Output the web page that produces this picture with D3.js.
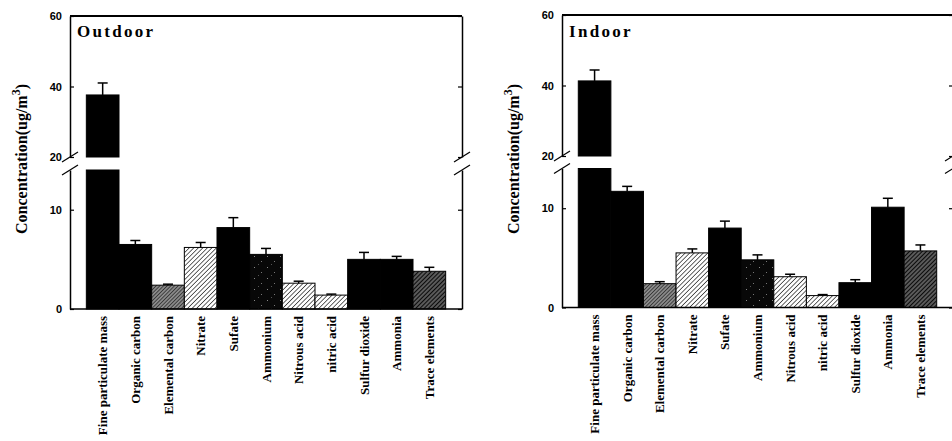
<!DOCTYPE html>
<html>
<head>
<meta charset="utf-8">
<script src="https://cdn.jsdelivr.net/npm/d3@7"></script>
<style>
  body { margin: 0; background: #fff; }
  svg { display: block; }
  .tick text { font-family: 'Liberation Sans', Arial, sans-serif; font-weight: bold; font-size: 11px; fill: #000; }
</style>
</head>
<body>
<div class="container"></div>
<script>
const categories = ['Fine particulate mass', 'Organic carbon', 'Elemental carbon', 'Nitrate', 'Sufate', 'Ammonium',
  'Nitrous acid', 'nitric acid', 'Sulfur dioxide', 'Ammonia', 'Trace elements'];

const outdoorMeans = [37.6, 6.5, 2.4, 6.2, 8.2, 5.5, 2.6, 1.4, 5.0, 5.0, 3.8];
const outdoorErrors = [3.4, 0.4, 0.1, 0.5, 1.0, 0.6, 0.2, 0.1, 0.7, 0.3, 0.4];

const indoorMeans = [41.3, 11.7, 2.4, 5.5, 8.0, 4.8, 3.1, 1.2, 2.5, 10.1, 5.7];
const indoorErrors = [3.1, 0.5, 0.2, 0.4, 0.7, 0.5, 0.25, 0.1, 0.3, 0.9, 0.6];

const fills = ['solid', 'solid', 'darkHatch', 'lightHatch', 'solid', 'stipple', 'lightHatch', 'lightHatch', 'solid', 'solid', 'traceHatch'];

const lowerTicks = [0, 10];
const upperTicks = [20, 40, 60];

const width = 952;
const height = 441;

const svg = d3.select('.container')
  .append('svg')
  .attr('width', width)
  .attr('height', height);

// fill patterns
const defs = svg.append('defs');

const hatch = (id, bg, line, gap, lw) => {
  const p = defs.append('pattern')
    .attr('id', id)
    .attr('patternUnits', 'userSpaceOnUse')
    .attr('width', gap)
    .attr('height', gap)
    .attr('patternTransform', 'rotate(45)');
  p.append('rect').attr('width', gap).attr('height', gap).attr('fill', bg);
  p.append('line')
    .attr('x1', 0).attr('y1', 0).attr('x2', 0).attr('y2', gap)
    .attr('stroke', line).attr('stroke-width', lw);
};
hatch('lightHatch', '#fff', '#000', 3.2, 1.2);
hatch('darkHatch', '#8a8a8a', '#111', 2.6, 1.2);

// dark stipple: black with a few light specks
const stipple = defs.append('pattern')
  .attr('id', 'stipple')
  .attr('patternUnits', 'userSpaceOnUse')
  .attr('width', 13).attr('height', 11);
stipple.append('rect').attr('width', 13).attr('height', 11).attr('fill', '#080808');
stipple.append('rect').attr('x', 2).attr('y', 3).attr('width', 1).attr('height', 1).attr('fill', '#888');
stipple.append('rect').attr('x', 9).attr('y', 8).attr('width', 1).attr('height', 1).attr('fill', '#777');
stipple.append('rect').attr('x', 6).attr('y', 0).attr('width', 1).attr('height', 1).attr('fill', '#555');

const trace = defs.append('pattern')
  .attr('id', 'traceHatch')
  .attr('patternUnits', 'userSpaceOnUse')
  .attr('width', 3).attr('height', 3)
  .attr('patternTransform', 'rotate(45)');
trace.append('rect').attr('width', 3).attr('height', 3).attr('fill', '#5a5a5a');
trace.append('line').attr('x1', 0).attr('y1', 0).attr('x2', 0).attr('y2', 3)
  .attr('stroke', '#000').attr('stroke-width', 1.8);

const fillOf = f => (f === 'solid' ? '#000' : `url(#${f})`);

const panels = [
  { title: 'Outdoor', means: outdoorMeans, errors: outdoorErrors, x0: 70, top: 16, bottom: 309, breakTop: 157, w: 392 },
  { title: 'Indoor', means: indoorMeans, errors: indoorErrors, x0: 562, top: 15, bottom: 307.5, breakTop: 156, w: 391 }
];

const drawPanel = p => {
  const g = svg.append('g').attr('transform', `translate(${p.x0}, 0)`);

  const x = d3.scaleBand().domain(categories).range([0, p.w]).paddingInner(0).paddingOuter(0.5);
  const yLow = d3.scaleLinear().domain([0, 14]).range([p.bottom, p.bottom - 139]);
  const yUp = d3.scaleLinear().domain([20, 60]).range([p.breakTop, p.top]);

  const data = categories.map((c, i) => ({ key: c, value: p.means[i], err: p.errors[i], fill: fills[i] }));

  // bars (the lower part is clipped at 14, the upper part starts at 20)
  const bars = g.selectAll('.bar').data(data).enter().append('g').attr('class', 'bar');

  bars.append('rect')
    .attr('x', d => x(d.key))
    .attr('width', x.bandwidth())
    .attr('y', d => yLow(Math.min(d.value, 14)))
    .attr('height', d => p.bottom - yLow(Math.min(d.value, 14)))
    .attr('fill', d => fillOf(d.fill))
    .attr('stroke', '#000')
    .attr('stroke-width', 1);

  bars.filter(d => d.value > 20).append('rect')
    .attr('x', d => x(d.key))
    .attr('width', x.bandwidth())
    .attr('y', d => yUp(d.value))
    .attr('height', d => p.breakTop - yUp(d.value))
    .attr('fill', d => fillOf(d.fill))
    .attr('stroke', '#000');

  // error bars
  const yOf = v => (v > 20 ? yUp(v) : yLow(v));
  const cx = d => x(d.key) + x.bandwidth() / 2;
  bars.append('line')
    .attr('x1', cx).attr('x2', cx)
    .attr('y1', d => yOf(d.value))
    .attr('y2', d => yOf(d.value + d.err))
    .attr('stroke', '#000').attr('stroke-width', 1.5);
  bars.append('line')
    .attr('x1', d => cx(d) - 5).attr('x2', d => cx(d) + 5)
    .attr('y1', d => yOf(d.value + d.err))
    .attr('y2', d => yOf(d.value + d.err))
    .attr('stroke', '#000').attr('stroke-width', 1.5);

  // axes
  const axisStyle = sel => {
    sel.select('.domain').attr('stroke', '#000').attr('stroke-width', 1.5);
    sel.selectAll('.tick line').attr('stroke', '#000').attr('stroke-width', 1.2);
  };

  g.append('g')
    .call(d3.axisLeft(yLow).tickValues(lowerTicks).tickSizeInner(-4).tickSizeOuter(0).tickPadding(8))
    .call(axisStyle);
  g.append('g')
    .call(d3.axisLeft(yUp).tickValues(upperTicks).tickSizeInner(-4).tickSizeOuter(0).tickPadding(8))
    .call(axisStyle);
  g.append('g')
    .attr('transform', `translate(${p.w}, 0)`)
    .call(d3.axisRight(yLow).tickValues(lowerTicks).tickSizeInner(-4).tickSizeOuter(0).tickFormat(''))
    .call(axisStyle);
  g.append('g')
    .attr('transform', `translate(${p.w}, 0)`)
    .call(d3.axisRight(yUp).tickValues(upperTicks).tickSizeInner(-4).tickSizeOuter(0).tickFormat(''))
    .call(axisStyle);

  // top and bottom frame
  g.append('line').attr('x1', 0).attr('x2', p.w).attr('y1', p.top).attr('y2', p.top)
    .attr('stroke', '#000').attr('stroke-width', 2);
  g.append('line').attr('x1', 0).attr('x2', p.w).attr('y1', p.bottom).attr('y2', p.bottom)
    .attr('stroke', '#000').attr('stroke-width', 1.5);

  // break marks
  [0, p.w].forEach(ax => {
    [p.breakTop, p.bottom - 139].forEach(by => {
      g.append('line')
        .attr('x1', ax - 8).attr('y1', by + 5)
        .attr('x2', ax + 8).attr('y2', by - 5)
        .attr('stroke', '#000').attr('stroke-width', 1.2);
    });
  });

  // category labels
  g.selectAll('.cat')
    .data(categories)
    .enter()
    .append('text')
    .attr('class', 'cat')
    .attr('transform', d => `translate(${x(d) + x.bandwidth() / 2}, ${p.bottom + 7}) rotate(-90)`)
    .attr('dy', '0.35em')
    .attr('text-anchor', 'end')
    .style('font-family', "'Liberation Serif', 'Times New Roman', serif")
    .style('font-weight', 'bold')
    .style('font-size', '13px')
    .text(d => d);

  // title
  g.append('text')
    .attr('x', 7)
    .attr('y', 37)
    .style('font-family', "'Liberation Serif', 'Times New Roman', serif")
    .style('font-weight', 'bold')
    .style('font-size', '17px')
    .style('letter-spacing', '2.3px')
    .text(p.title);

  // y label
  const yl = g.append('text')
    .attr('transform', `translate(-43, 159) rotate(-90)`)
    .attr('text-anchor', 'middle')
    .style('font-family', "'Liberation Serif', 'Times New Roman', serif")
    .style('font-weight', 'bold')
    .style('font-size', '16px');
  yl.append('tspan').text('Concentration(ug/m');
  yl.append('tspan').attr('dy', -7).style('font-size', '12px').text('3');
  yl.append('tspan').attr('dy', 7).text(')');
};

panels.forEach(drawPanel);
</script>
</body>
</html>
